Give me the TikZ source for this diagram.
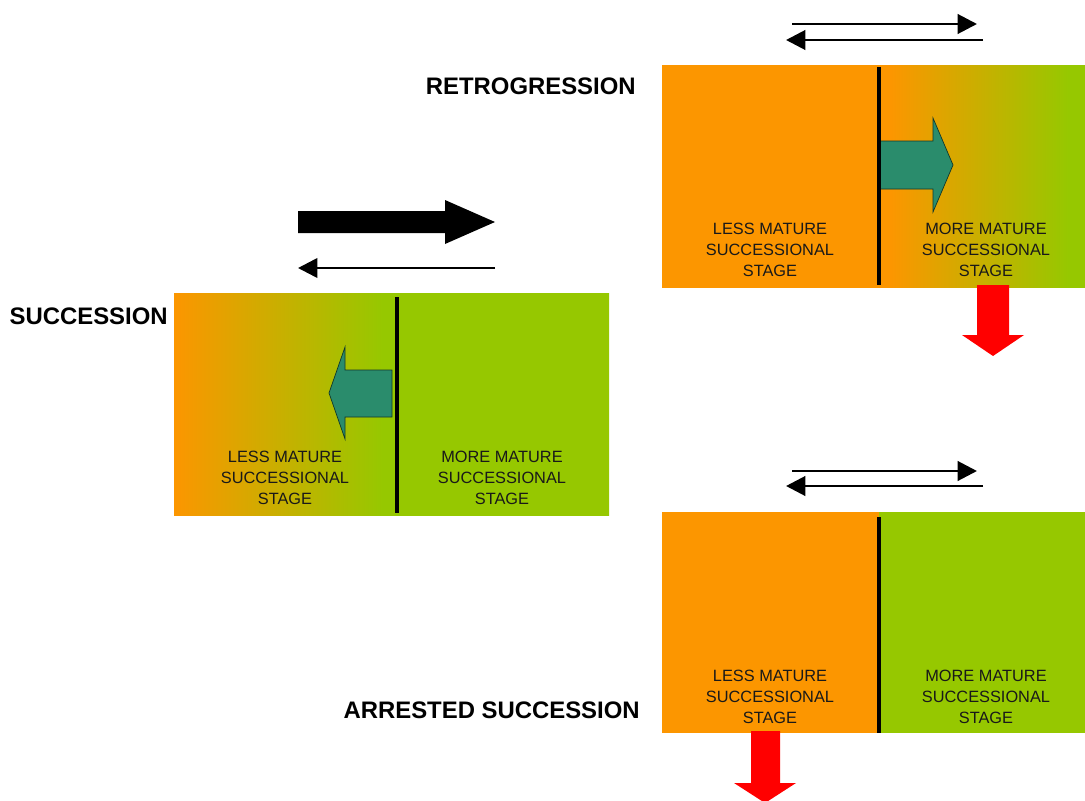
\documentclass[tikz,border=0pt]{standalone}
\usepackage{fontspec}
\setmainfont{Liberation Sans}
\usetikzlibrary{arrows.meta}
\definecolor{stageorange}{RGB}{252,150,0}
\definecolor{stagegreen}{RGB}{150,200,0}
\definecolor{shiftgreen}{RGB}{42,140,108}
\definecolor{lossred}{RGB}{255,0,0}
% fades across a whole box (box is mapped to 25bp..75bp)
\pgfdeclarehorizontalshading{succfade}{100bp}{color(0bp)=(stageorange); color(25bp)=(stageorange);
    color(49bp)=(stagegreen); color(100bp)=(stagegreen)}
\pgfdeclarehorizontalshading{retrofade}{100bp}{color(0bp)=(stageorange); color(52bp)=(stageorange);
    color(73bp)=(stagegreen); color(100bp)=(stagegreen)}

\begin{document}
\begin{tikzpicture}[x=0.02cm,y=-0.02cm,
    stagetext/.style={align=center,text=black!90,font=\fontsize{9.3}{11.9}\selectfont},
    title/.style={anchor=east,inner sep=0pt,font=\fontsize{13.6}{15}\selectfont\bfseries},
    thinarrow/.style={-{Triangle[length=11pt,width=11pt]},line width=1.7pt},
    shiftarrow/.style={fill=shiftgreen,draw=black!60!shiftgreen,line width=0.4pt},
    divider/.style={line width=2pt}]
    \useasboundingbox (0,0) rectangle (1085,801);

    % Succession
    \node[title] (succ) at (168,316) {SUCCESSION};
    \shade[shading=succfade] (174,293) rectangle (609,515);
    \filldraw[shiftarrow] (392,370) -- (345,370) -- (345,347) -- (329,393)
        -- (345,439) -- (345,417) -- (392,417) -- cycle;
    \draw[divider] (397,297) -- (397,513);
    \node[stagetext] (succL) at (285,478) {LESS MATURE\\SUCCESSIONAL\\STAGE};
    \node[stagetext] (succR) at (502,478) {MORE MATURE\\SUCCESSIONAL\\STAGE};
    \fill[black] (298,211) -- (445,211) -- (445,200) -- (495,222)
        -- (445,244) -- (445,233) -- (298,233) -- cycle;
    \coordinate (sbA) at (495,268);
    \coordinate (sbB) at (298,268);
    \draw[-{Triangle[length=11pt,width=11pt]},line width=1.5pt] (sbA) -- (sbB);

    % Retrogression
    \node[title] (retro) at (636,86) {RETROGRESSION};
    \shade[shading=retrofade] (662,65) rectangle (1085,287);
    \filldraw[shiftarrow] (879,141) -- (933,141) -- (933,118) -- (953,165)
        -- (933,212) -- (933,189) -- (879,189) -- cycle;
    \draw[divider] (879,67) -- (879,285);
    \node[stagetext] (retroL) at (770,250) {LESS MATURE\\SUCCESSIONAL\\STAGE};
    \node[stagetext] (retroR) at (986,250) {MORE MATURE\\SUCCESSIONAL\\STAGE};
    \coordinate (rtA) at (792,24);
    \coordinate (rtB) at (977,24);
    \coordinate (rbA) at (983,40);
    \coordinate (rbB) at (786,40);
    \draw[thinarrow] (rtA) -- (rtB);
    \draw[thinarrow] (rbA) -- (rbB);
    \fill[lossred] (977,285) -- (1009,285) -- (1009,335) -- (1024,335)
        -- (993,356) -- (962,335) -- (977,335) -- cycle;

    % Arrested succession
    \node[title] (arrest) at (640,710) {ARRESTED SUCCESSION};
    \fill[stageorange] (662,512) rectangle (879,733);
    \fill[stagegreen] (879,512) rectangle (1085,733);
    \draw[divider] (879,517) -- (879,733);
    \node[stagetext] (arrestL) at (770,697) {LESS MATURE\\SUCCESSIONAL\\STAGE};
    \node[stagetext] (arrestR) at (986,697) {MORE MATURE\\SUCCESSIONAL\\STAGE};
    \coordinate (atA) at (792,471);
    \coordinate (atB) at (977,471);
    \coordinate (abA) at (983,486);
    \coordinate (abB) at (786,486);
    \draw[thinarrow] (atA) -- (atB);
    \draw[thinarrow] (abA) -- (abB);
    \fill[lossred] (751,731) -- (780,731) -- (780,783) -- (796,783)
        -- (765,803) -- (734,783) -- (751,783) -- cycle;
\end{tikzpicture}
\end{document}
